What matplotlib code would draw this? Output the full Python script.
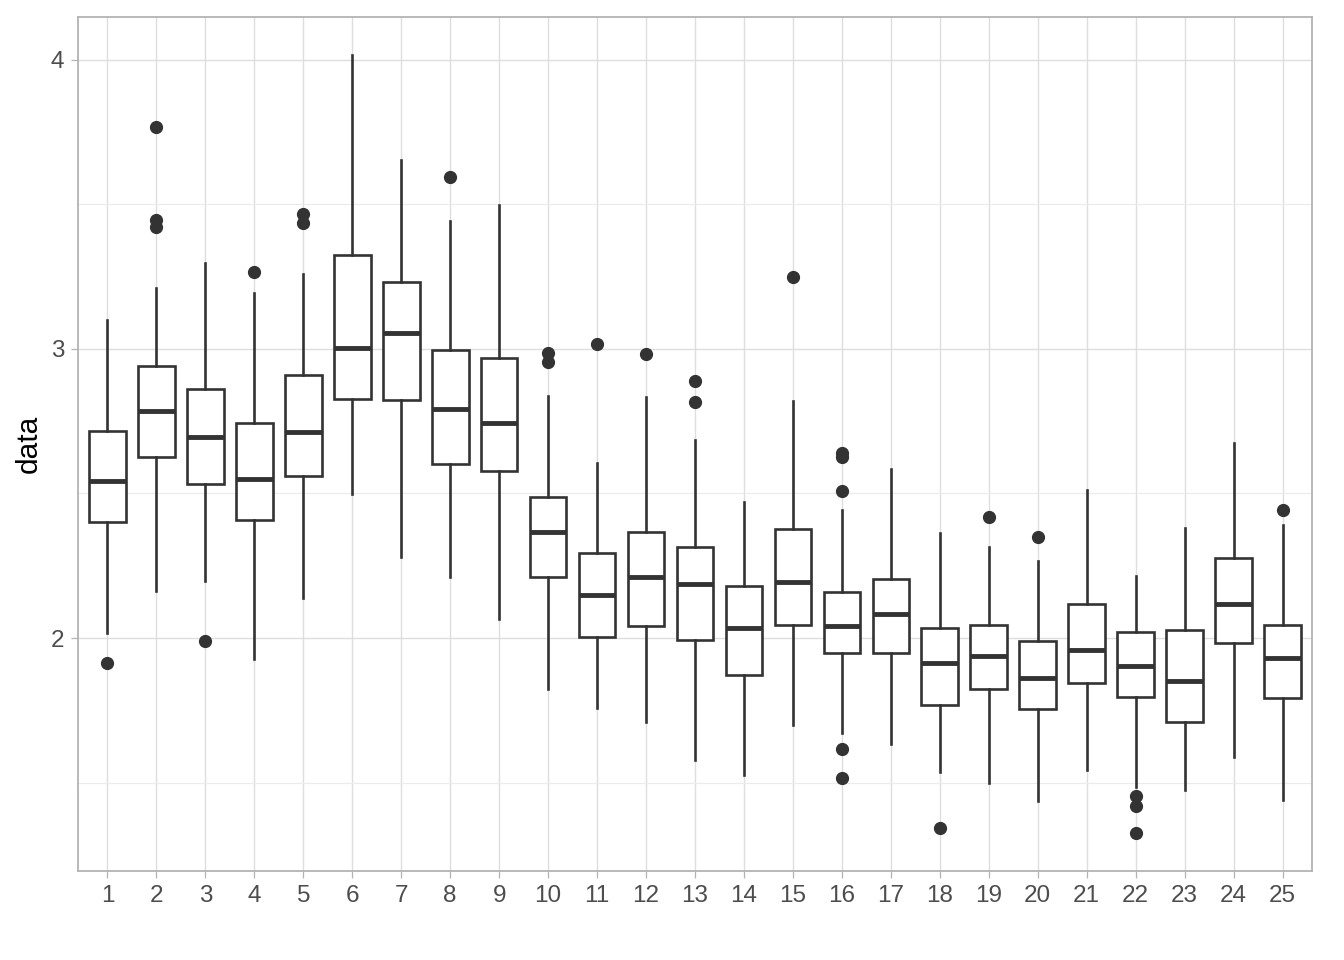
import numpy as np
import matplotlib
matplotlib.use('Agg')
import matplotlib.pyplot as plt
from matplotlib.ticker import MultipleLocator

plt.rcParams['font.family'] = ['Liberation Sans', 'DejaVu Sans']

# groups 1..25, box stats
groups = list(range(1, 26))
whisk_lo = [2.019, 2.163, 2.197, 1.929, 2.139, 2.497, 2.282, 2.212, 2.065, 1.824,
            1.757, 1.711, 1.579, 1.527, 1.700, 1.673, 1.633, 1.536, 1.498, 1.437,
            1.544, 1.486, 1.475, 1.590, 1.440]
q1 = [2.402, 2.627, 2.533, 2.408, 2.560, 2.826, 2.823, 2.602, 2.576, 2.210,
      2.003, 2.043, 1.993, 1.872, 2.045, 1.947, 1.947, 1.768, 1.823, 1.754,
      1.844, 1.795, 1.709, 1.982, 1.792]
med = [2.542, 2.785, 2.694, 2.551, 2.714, 3.002, 3.054, 2.792, 2.742, 2.366,
       2.149, 2.212, 2.187, 2.034, 2.193, 2.042, 2.083, 1.913, 1.938, 1.861,
       1.959, 1.904, 1.852, 2.118, 1.932]
q3 = [2.717, 2.941, 2.861, 2.744, 2.909, 3.324, 3.232, 2.996, 2.967, 2.489,
      2.293, 2.368, 2.314, 2.181, 2.376, 2.160, 2.204, 2.036, 2.044, 1.989,
      2.118, 2.020, 2.028, 2.277, 2.044]
whisk_hi = [3.100, 3.211, 3.295, 3.194, 3.257, 4.016, 3.653, 3.442, 3.496, 2.838,
            2.604, 2.834, 2.685, 2.469, 2.820, 2.443, 2.583, 2.364, 2.316, 2.265,
            2.513, 2.216, 2.380, 2.675, 2.392]
outliers = [[1.915], [3.767, 3.445, 3.421], [1.989], [3.267], [3.466, 3.434],
            [], [], [3.595], [], [2.987, 2.953],
            [3.018], [2.981], [2.890, 2.817], [], [3.249],
            [2.639, 2.627, 2.508, 1.616, 1.515], [], [1.343], [2.420], [2.350],
            [], [1.455, 1.421, 1.327], [], [], [2.443]]

stats = []
for i in range(len(groups)):
    stats.append(dict(label=str(groups[i]), whislo=whisk_lo[i], q1=q1[i], med=med[i],
                      q3=q3[i], whishi=whisk_hi[i], fliers=outliers[i]))

dark = '#333333'
fig = plt.figure(figsize=(13.44, 9.6), dpi=100)
ax = fig.add_axes([78/1344, 89/960, 1234/1344, 854/960])

ax.bxp(stats, positions=groups, widths=0.75, showcaps=False, patch_artist=True,
       boxprops=dict(facecolor='white', edgecolor=dark, linewidth=1.9),
       medianprops=dict(color=dark, linewidth=3.5, solid_capstyle='butt'),
       whiskerprops=dict(color=dark, linewidth=1.9),
       flierprops=dict(marker='o', markerfacecolor=dark, markeredgecolor=dark,
                       markersize=8.5, linestyle='none'))

ax.set_xlim(0.4, 25.6)
ax.set_ylim(1.195, 4.147)
ax.set_xticks(groups)
ax.set_xticklabels([str(g) for g in groups])
ax.yaxis.set_major_locator(MultipleLocator(1))
ax.yaxis.set_minor_locator(MultipleLocator(0.5))

ax.set_axisbelow(True)
ax.grid(which='major', color='#DEDEDE', linewidth=1.0)
ax.grid(which='minor', axis='y', color='#EBEBEB', linewidth=0.8)

for s in ax.spines.values():
    s.set_color('#B3B3B3')
    s.set_linewidth(1.3)

ax.tick_params(axis='both', which='major', length=5, width=0.9, color='#B3B3B3',
               labelsize=17.5, labelcolor='#4D4D4D', pad=5)
ax.tick_params(axis='y', which='minor', length=0)

ax.set_ylabel('data', fontsize=21.5, color='black', labelpad=6)

fig.savefig('out.png', dpi=100)
